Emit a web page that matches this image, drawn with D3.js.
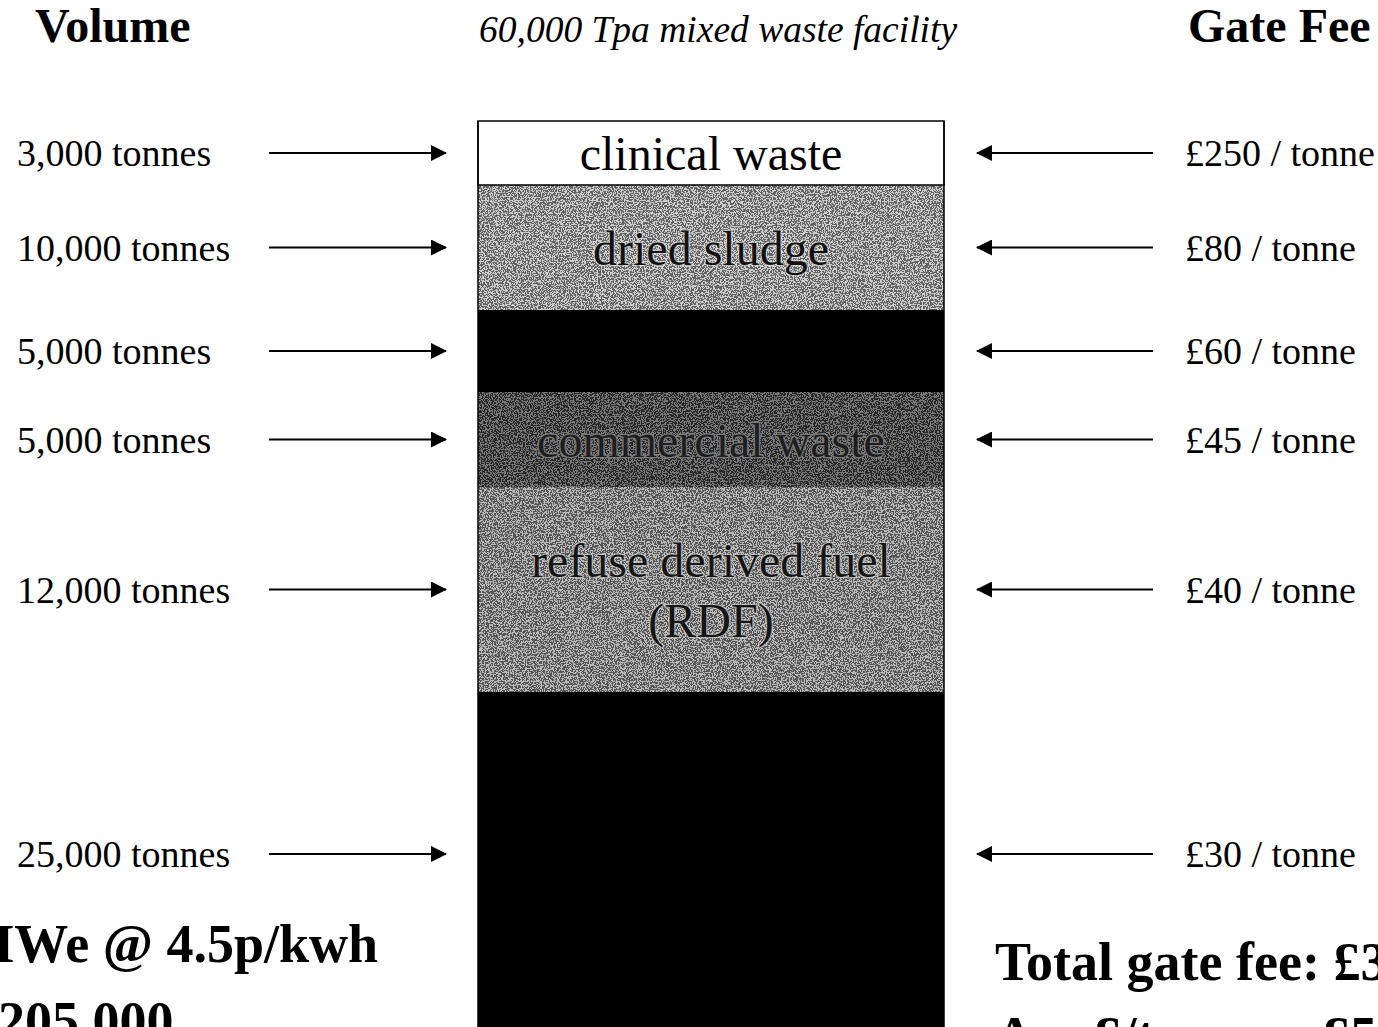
<!DOCTYPE html>
<html>
<head>
<meta charset="utf-8">
<script src="https://cdn.jsdelivr.net/npm/d3@7"></script>
<style>
  html, body { margin: 0; padding: 0; background: #fff; overflow: hidden; }
  svg { display: block; font-family: "Liberation Serif", "Times New Roman", serif; }
</style>
</head>
<body>
<div id="chart"></div>
<script>
// waste streams, top to bottom
const streams = ["clinical waste", "dried sludge", "", "commercial waste", "refuse derived fuel|(RDF)", ""];
const volumes = [3000, 10000, 5000, 5000, 12000, 25000];   // tonnes per annum
const gateFees = [250, 80, 60, 45, 40, 30];                // £ per tonne
const powerLines = ["MWe @ 4.5p/kwh", "205,000"];

const width = 1378, height = 1027;

const svg = d3.select("#chart").append("svg")
  .attr("width", width)
  .attr("height", height);

const defs = svg.append("defs");

// grainy print texture for the grey bands
const grain = defs.append("filter").attr("id", "grain")
  .attr("x", 0).attr("y", 0).attr("width", 1).attr("height", 1);
grain.append("feTurbulence")
  .attr("type", "fractalNoise").attr("baseFrequency", 0.75)
  .attr("numOctaves", 2).attr("seed", 4);
grain.append("feColorMatrix").attr("type", "saturate").attr("values", 0);
const ct = grain.append("feComponentTransfer");
["R", "G", "B"].forEach(c => ct.append("feFunc" + c).attr("type", "discrete").attr("tableValues", "0 1"));
ct.append("feFuncA").attr("type", "linear").attr("slope", 0).attr("intercept", 1);

// cumulative tonnage -> vertical position (schematic, not to scale)
const cum = [0];
volumes.forEach(v => cum.push(cum[cum.length - 1] + v));
const bandEdges = [121, 185, 310, 392, 487, 692, 1032];
const y = d3.scaleLinear().domain(cum).range(bandEdges);
const bandTop = i => y(cum[i]);
const bandBot = i => y(cum[i + 1]);
const bandMid = i => (bandTop(i) + bandBot(i)) / 2;

const barX0 = 478, barX1 = 944;

const bandStyle = [
  { fill: "#ffffff", grain: 0,    text: "#000",    halo: "none" },
  { fill: "#a8a8a8", grain: 0.40, text: "#121212", halo: "rgba(235,235,235,0.55)" },
  { fill: "#000000", grain: 0,    text: "#000",    halo: "none" },
  { fill: "#3c3c3c", grain: 0.30, text: "#1e1e1e", halo: "rgba(130,130,130,0.85)" },
  { fill: "#8c8c8c", grain: 0.38, text: "#161616", halo: "rgba(215,215,215,0.6)" },
  { fill: "#000000", grain: 0,    text: "#000",    halo: "none" }
];

const bands = svg.append("g").selectAll("g")
  .data(volumes)
  .join("g");

bands.append("rect")
  .attr("x", barX0)
  .attr("y", (d, i) => bandTop(i))
  .attr("width", barX1 - barX0)
  .attr("height", (d, i) => bandBot(i) - bandTop(i))
  .attr("fill", (d, i) => bandStyle[i].fill);

bands.each(function(d, i) {
  if (!bandStyle[i].grain) return;
  d3.select(this).append("rect")
    .attr("x", barX0)
    .attr("y", bandTop(i))
    .attr("width", barX1 - barX0)
    .attr("height", bandBot(i) - bandTop(i))
    .attr("opacity", bandStyle[i].grain)
    .attr("filter", "url(#grain)");
});

// outline of the column
svg.append("rect")
  .attr("x", barX0).attr("y", bandTop(0))
  .attr("width", barX1 - barX0).attr("height", bandBot(0) - bandTop(0))
  .attr("fill", "none").attr("stroke", "#000").attr("stroke-width", 1.5);
[barX0, barX1].forEach(x => {
  svg.append("line")
    .attr("x1", x).attr("x2", x)
    .attr("y1", bandTop(0)).attr("y2", height)
    .attr("stroke", "#000").attr("stroke-width", 1.5);
});

// band labels
bands.each(function(d, i) {
  if (!streams[i]) return;
  const lines = streams[i].split("|");
  const st = bandStyle[i];
  const lh = 60;
  const t = d3.select(this).append("text")
    .attr("text-anchor", "middle")
    .attr("font-size", 48)
    .attr("fill", st.text)
    .attr("stroke", st.halo)
    .attr("stroke-width", st.halo === "none" ? 0 : 2.5)
    .attr("paint-order", "stroke");
  lines.forEach((ln, k) => {
    t.append("tspan")
      .attr("x", (barX0 + barX1) / 2)
      .attr("y", bandMid(i) + 17 + (k - (lines.length - 1) / 2) * lh)
      .text(ln);
  });
});

// arrows
defs.append("marker").attr("id", "head")
  .attr("viewBox", "0 0 16 16").attr("refX", 15).attr("refY", 8)
  .attr("markerWidth", 16).attr("markerHeight", 16)
  .attr("markerUnits", "userSpaceOnUse").attr("orient", "auto")
  .append("path").attr("d", "M0,0 L16,8 L0,16 Z").attr("fill", "#000");

const fmt = d3.format(",");
// last band runs off the page, so its pointer sits a little above its middle
const rows = svg.append("g").selectAll("g")
  .data(volumes)
  .join("g")
  .attr("transform", (d, i) => `translate(0,${i === volumes.length - 1 ? bandMid(i) - 8 : bandMid(i)})`);

rows.append("line")
  .attr("x1", 269).attr("x2", 446)
  .attr("stroke", "#000").attr("stroke-width", 2)
  .attr("marker-end", "url(#head)");

rows.append("line")
  .attr("x1", 1153).attr("x2", 977)
  .attr("stroke", "#000").attr("stroke-width", 2)
  .attr("marker-end", "url(#head)");

rows.append("text")
  .attr("x", 17).attr("y", 13)
  .attr("font-size", 38)
  .text(d => `${fmt(d)} tonnes`);

rows.append("text")
  .attr("x", 1185).attr("y", 13)
  .attr("font-size", 38)
  .text((d, i) => `£${gateFees[i]} / tonne`);

// headings
svg.append("text").attr("x", 35).attr("y", 42)
  .attr("font-size", 48).attr("font-weight", "bold").text("Volume");
svg.append("text").attr("x", 479).attr("y", 42)
  .attr("font-size", 37.5).attr("font-style", "italic")
  .text(`${fmt(d3.sum(volumes))} Tpa mixed waste facility`);
svg.append("text").attr("x", 1188).attr("y", 42)
  .attr("font-size", 48).attr("font-weight", "bold").text("Gate Fee");

// totals
const total = d3.sum(volumes, (v, i) => v * gateFees[i]);
const avg = total / d3.sum(volumes);

svg.append("text").attr("x", 378).attr("y", 962)
  .attr("text-anchor", "end")
  .attr("font-size", 54).attr("font-weight", "bold").text(powerLines[0]);
svg.append("text").attr("x", -2).attr("y", 1039)
  .attr("font-size", 54).attr("font-weight", "bold").text(powerLines[1]);

svg.append("text").attr("x", 995).attr("y", 980)
  .attr("font-size", 54).attr("font-weight", "bold")
  .text(`Total gate fee: £${fmt(total)}`);
svg.append("text").attr("x", 995).attr("y", 1054)
  .attr("font-size", 54).attr("font-weight", "bold")
  .text(`Ave £/tonne = £${avg.toFixed(2)}`);
</script>
</body>
</html>
